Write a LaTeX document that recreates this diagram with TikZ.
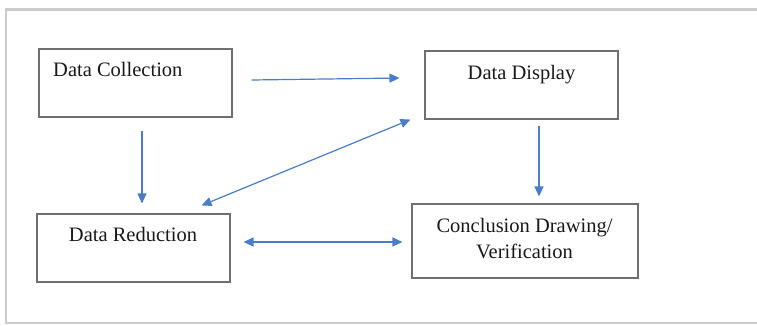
\documentclass[tikz,border=0pt]{standalone}
\usepackage{fontspec}
\setmainfont{Liberation Serif}
\usetikzlibrary{arrows.meta,positioning}

\definecolor{boxgray}{HTML}{707070}
\definecolor{arrowblue}{HTML}{4A7CCC}
\definecolor{framegray}{HTML}{CBCBCB}

\begin{document}
\begin{tikzpicture}[
    x=1pt, y=-1pt,
    box/.style={draw=boxgray, line width=1.1pt, minimum width=193pt, minimum height=68pt, inner sep=0pt},
    lbl/.style={font=\fontsize{20.5}{26.5}\selectfont, text=black!90, inner sep=0pt},
    link/.style={-{Triangle[length=10pt, width=9pt]}, arrowblue, line width=1.2pt},
    both/.style={{Triangle[length=10pt, width=9pt]}-{Triangle[length=10pt, width=9pt]}, arrowblue, line width=1.2pt}
]
\useasboundingbox (0,0) rectangle (757,325);
\clip (0,0) rectangle (757,325);
% outer frame
\draw[framegray, line width=2.5pt] (6,9.5) rectangle (800,323);

% boxes
\node[box] (coll) at (135.5,83) {};
\node[box] (disp) at (521.5,85) {};
\node[box] (red) at (133.5,248) {};
\node[box, minimum width=226pt, minimum height=74pt] (concl) at (525,241) {};

% texts
\node[lbl, anchor=base west] (colltxt) at (53,76.7) {Data Collection};
\node[lbl, anchor=base] (disptxt) at (521.5,79) {Data Display};
\node[lbl, anchor=base] (redtxt) at (133,241.7) {Data Reduction};
\node[lbl, align=center] (concltxt) at (524.5,238.5) {Conclusion Drawing/\\Verification};

% arrows
\draw[link] ([xshift=19pt, yshift=3pt]coll.east) -- ([xshift=-25pt, yshift=7pt]disp.west);
\draw[link] ([xshift=6.5pt, yshift=-13pt]coll.south) -- ([xshift=8.5pt, yshift=10pt]red.north);
\draw[both] ([xshift=-14pt]disp.south west) -- ([xshift=-29pt, yshift=8pt]red.north east);
\draw[link] ([xshift=17.5pt, yshift=-6pt]disp.south) -- ([xshift=14pt, yshift=7pt]concl.north);
\draw[both] ([xshift=13pt, yshift=6pt]red.east) -- ([xshift=-9pt, yshift=-1pt]concl.west);
\end{tikzpicture}
\end{document}
